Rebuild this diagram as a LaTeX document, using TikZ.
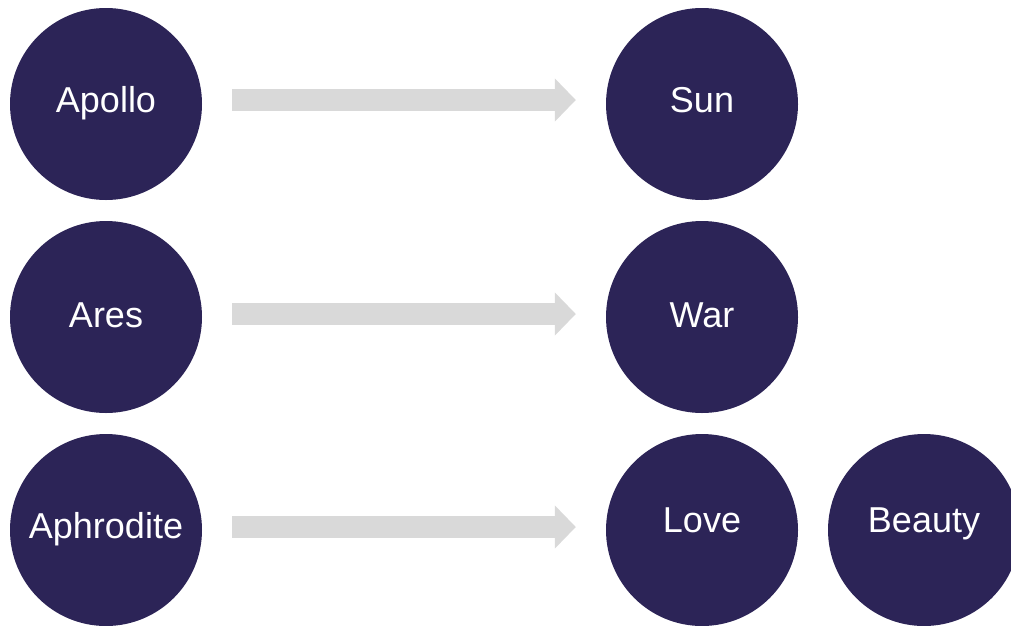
\documentclass[tikz,border=0pt]{standalone}
\usepackage{fontspec}
\setmainfont{Liberation Sans}
\usetikzlibrary{arrows.meta}
\definecolor{disc}{HTML}{2C2457}
\definecolor{shaft}{HTML}{D9D9D9}
\tikzset{
  disc/.style={circle, fill=disc, draw=none, minimum size=192pt, inner sep=0pt},
  word/.style={text=white, font=\fontsize{36}{42}\selectfont, anchor=base, inner sep=0pt},
  blockarrow/.style={draw=shaft, line width=22pt,
    -{Triangle[width=42pt,length=21pt]}, shorten >=0pt},
}
\begin{document}
\begin{tikzpicture}[x=1pt, y=-1pt]
  \useasboundingbox (0,0) rectangle (1011,625);
  % left column
  \node[disc] (apollo)    at (106,104) {};
  \node[disc] (ares)      at (106,317) {};
  \node[disc] (aphrodite) at (106,530) {};
  % right column
  \node[disc] (sun)    at (702,104) {};
  \node[disc] (war)    at (702,317) {};
  \node[disc] (love)   at (702,530) {};
  \node[disc] (beauty) at (924,530) {};
  % labels
  \node[word] (tapollo)    at (106,112) {Apollo};
  \node[word] (tares)      at (106,327) {Ares};
  \node[word] (taphrodite) at (106,538) {Aphrodite};
  \node[word] (tsun)       at (702,112) {Sun};
  \node[word] (twar)       at (702,327) {War};
  \node[word] (tlove)      at (702,532) {Love};
  \node[word] (tbeauty)    at (924,532) {Beauty};
  % arrows
  \draw[blockarrow] ([shift={(30,-4)}]apollo.east) -- ([shift={(-30,-4)}]sun.west);
  \draw[blockarrow] ([shift={(30,-3)}]ares.east) -- ([shift={(-30,-3)}]war.west);
  \draw[blockarrow] ([shift={(30,-3)}]aphrodite.east) -- ([shift={(-30,-3)}]love.west);
\end{tikzpicture}
\end{document}
